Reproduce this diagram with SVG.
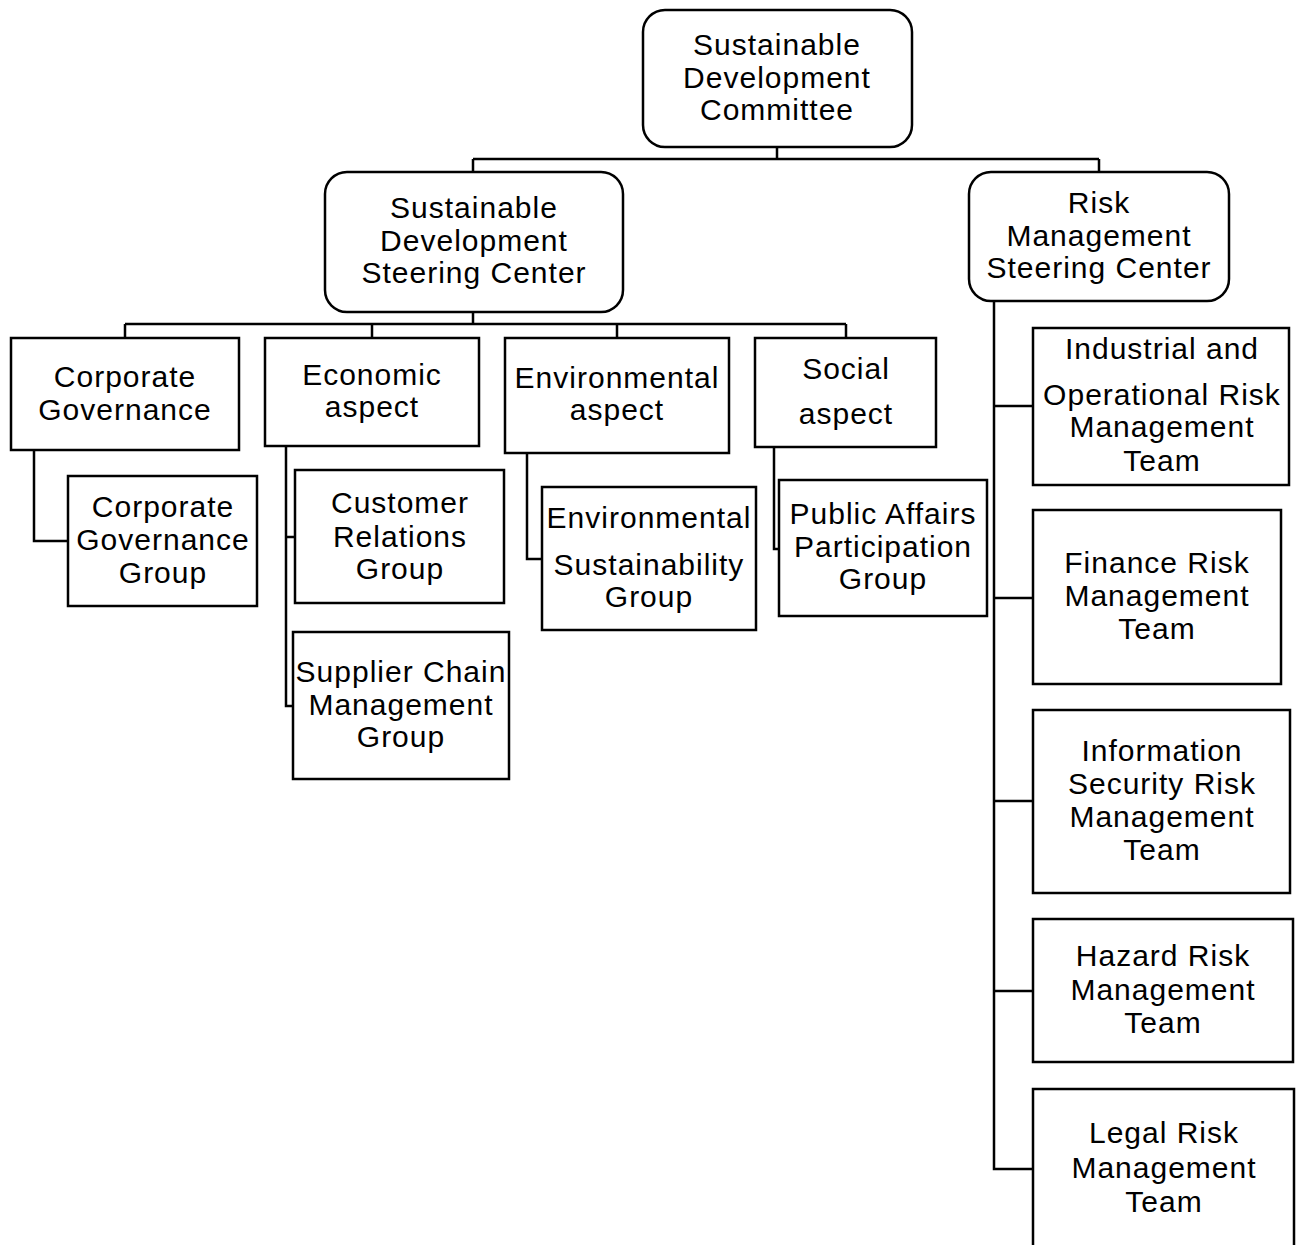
<svg xmlns="http://www.w3.org/2000/svg" width="1296" height="1245" viewBox="0 0 1296 1245">
<style>
.n{fill:#fff;stroke:#000;stroke-width:2.5}
.c{fill:none;stroke:#000;stroke-width:2.5}
text{font-family:"Liberation Sans",Arial,sans-serif;font-size:30px;letter-spacing:1px;text-anchor:middle;fill:#000}
</style>
<rect width="1296" height="1245" fill="#fff"/>
<g id="connectors">
<path class="c" d="M777 147V159M473 159H1099M473 159V172M1099 159V172"/>
<path class="c" d="M473 312V324M125 324H846M125 324V338M372 324V338M617 324V338M846 324V338"/>
<path class="c" d="M34 450V541H68"/>
<path class="c" d="M286 446V706H293M286 537H295"/>
<path class="c" d="M527 453V559H542"/>
<path class="c" d="M774 447V549H779"/>
<path class="c" d="M994 301V1169H1033M994 406H1033M994 598H1033M994 801H1033M994 991H1033"/>
</g>
<g id="n-sdc"><rect class="n" x="643" y="10" width="269" height="137" rx="22"/><text x="777" y="55">Sustainable</text><text x="777" y="88">Development</text><text x="777" y="120">Committee</text></g>
<g id="n-sdsc"><rect class="n" x="325" y="172" width="298" height="140" rx="22"/><text x="474" y="218">Sustainable</text><text x="474" y="251">Development</text><text x="474" y="283">Steering Center</text></g>
<g id="n-rmsc"><rect class="n" x="969" y="172" width="260" height="129" rx="22"/><text x="1099" y="213">Risk</text><text x="1099" y="246">Management</text><text x="1099" y="278">Steering Center</text></g>
<g id="n-cg"><rect class="n" x="11" y="338" width="228" height="112"/><text x="125" y="387">Corporate</text><text x="125" y="420">Governance</text></g>
<g id="n-eco"><rect class="n" x="265" y="338" width="214" height="108"/><text x="372" y="385">Economic</text><text x="372" y="417">aspect</text></g>
<g id="n-env"><rect class="n" x="505" y="338" width="224" height="115"/><text x="617" y="388">Environmental</text><text x="617" y="420">aspect</text></g>
<g id="n-soc"><rect class="n" x="755" y="338" width="181" height="109"/><text x="846" y="379">Social</text><text x="846" y="424">aspect</text></g>
<g id="n-cgg"><rect class="n" x="68" y="476" width="189" height="130"/><text x="163" y="517">Corporate</text><text x="163" y="550">Governance</text><text x="163" y="583">Group</text></g>
<g id="n-crg"><rect class="n" x="295" y="470" width="209" height="133"/><text x="400" y="513">Customer</text><text x="400" y="547">Relations</text><text x="400" y="579">Group</text></g>
<g id="n-scm"><rect class="n" x="293" y="632" width="216" height="147"/><text x="401" y="682">Supplier Chain</text><text x="401" y="715">Management</text><text x="401" y="747">Group</text></g>
<g id="n-esg"><rect class="n" x="542" y="487" width="214" height="143"/><text x="649" y="528">Environmental</text><text x="649" y="575">Sustainability</text><text x="649" y="607">Group</text></g>
<g id="n-pap"><rect class="n" x="779" y="480" width="208" height="136"/><text x="883" y="524">Public Affairs</text><text x="883" y="557">Participation</text><text x="883" y="589">Group</text></g>
<g id="n-ior"><rect class="n" x="1033" y="328" width="256" height="157"/><text x="1162" y="359">Industrial and</text><text x="1162" y="405">Operational Risk</text><text x="1162" y="437">Management</text><text x="1162" y="471">Team</text></g>
<g id="n-frm"><rect class="n" x="1033" y="510" width="248" height="174"/><text x="1157" y="573">Finance Risk</text><text x="1157" y="606">Management</text><text x="1157" y="639">Team</text></g>
<g id="n-isr"><rect class="n" x="1033" y="710" width="257" height="183"/><text x="1162" y="761">Information</text><text x="1162" y="794">Security Risk</text><text x="1162" y="827">Management</text><text x="1162" y="860">Team</text></g>
<g id="n-hrm"><rect class="n" x="1033" y="919" width="260" height="143"/><text x="1163" y="966">Hazard Risk</text><text x="1163" y="1000">Management</text><text x="1163" y="1033">Team</text></g>
<g id="n-lrm"><rect class="n" x="1033" y="1089" width="261" height="170"/><text x="1164" y="1143">Legal Risk</text><text x="1164" y="1178">Management</text><text x="1164" y="1212">Team</text></g>
</svg>
